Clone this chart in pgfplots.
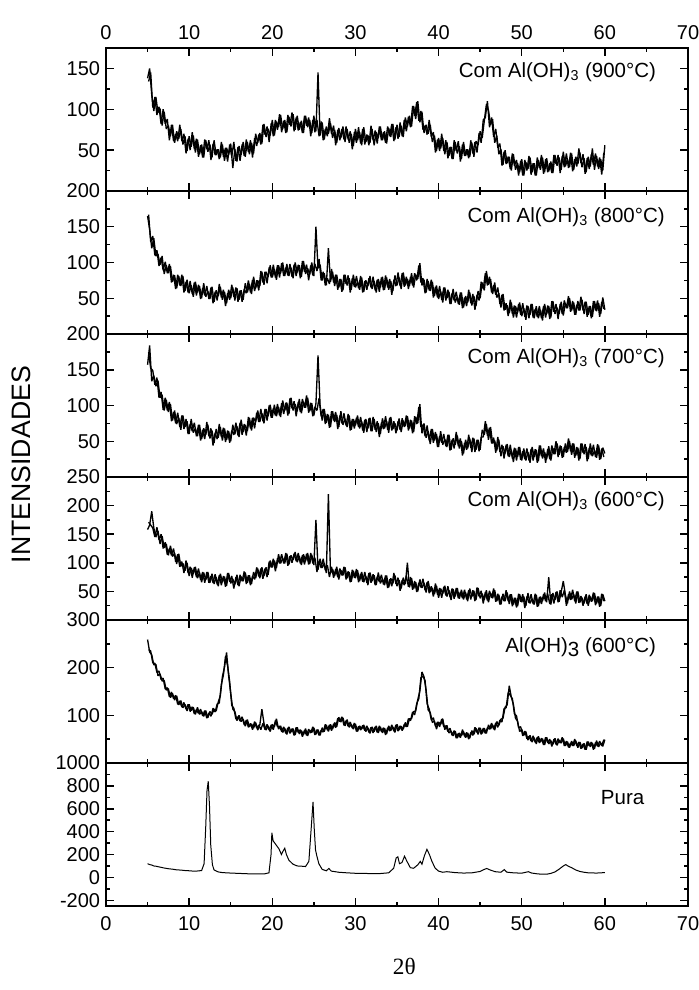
\documentclass[border=0pt]{standalone}
\usepackage{fontspec}
\setmainfont{Liberation Sans}
\newfontfamily\seriffont{Liberation Serif}
\usepackage{pgfplots}
\pgfplotsset{compat=1.18}
\usepackage{pgfplotstable}

% 2theta, then the five calcined samples (900, 800, 700, 600 C with Al(OH)3, and Al(OH)3 alone)
\pgfplotstableread{
x s900 s800 s700 s600 sal
5.00 138 165 157 158 259
5.25 150 146 184 166 233
5.50 118 120 134 190 227
5.75 98 134 142 161 206
6.00 115 109 127 145 207
6.25 96 112 135 156 183
6.50 101 97 111 133 187
6.75 80 109 115 147 172
7.00 97 84 93 126 173
7.25 76 96 108 133 153
7.50 80 85 91 113 156
7.75 67 95 102 130 137
8.00 81 73 79 111 146
8.25 59 82 93 117 132
8.50 73 64 74 98 141
8.75 64 81 83 116 122
9.00 76 67 66 94 131
9.25 57 81 86 99 116
9.50 67 60 70 86 123
9.75 49 76 78 100 109
10.00 67 57 60 77 123
10.25 54 68 81 91 110
10.50 68 52 62 81 117
10.75 47 73 68 93 102
11.00 63 58 57 73 117
11.25 45 67 73 83 102
11.50 57 50 53 66 108
11.75 41 71 68 83 98
12.00 62 52 59 70 110
12.25 48 60 73 84 95
12.50 57 49 54 65 108
12.75 41 66 65 81 102
13.00 62 45 48 63 113
13.25 44 61 67 75 109
13.50 51 53 55 59 128
13.75 41 66 70 81 141
14.00 57 48 51 66 181
14.25 37 59 68 76 201
14.50 53 43 52 60 232
14.75 44 62 64 82 183
15.00 58 50 50 64 146
15.25 28 65 73 72 113
15.50 51 47 60 62 108
15.75 36 64 71 79 89
16.00 55 48 56 59 100
16.25 44 61 80 76 87
16.50 60 48 63 68 92
16.75 42 71 73 83 77
17.00 60 58 64 65 91
17.25 45 70 83 78 76
17.50 59 56 65 63 82
17.75 46 80 83 84 73
18.00 70 64 77 73 85
18.25 59 75 93 90 69
18.50 71 67 77 73 80
18.75 58 87 89 92 113
19.00 82 69 75 77 83
19.25 66 87 95 92 69
19.50 76 80 85 79 78
19.75 68 96 101 104 66
20.00 87 79 83 92 81
20.25 68 91 101 104 76
20.50 85 76 85 91 93
20.75 78 96 98 115 71
21.00 93 85 84 99 78
21.25 76 100 107 108 64
21.50 87 81 93 99 73
21.75 72 98 104 116 60
22.00 91 81 88 97 76
22.25 79 93 111 113 65
22.50 94 78 93 105 72
22.75 75 100 102 119 59
23.00 92 86 92 101 75
23.25 75 96 109 112 61
23.50 86 80 89 96 68
23.75 71 102 105 115 59
24.00 92 84 97 103 72
24.25 78 92 111 117 57
24.50 87 83 92 98 69
24.75 71 100 103 114 64
25.00 92 81 86 96 74
25.25 73 150 103 175 60
25.50 145 92 170 88 70
25.75 68 97 100 107 58
26.00 84 75 79 91 74
26.25 63 85 95 99 66
26.50 79 68 76 82 80
26.75 70 120 87 220 66
27.00 83 73 70 82 81
27.25 65 87 92 89 71
27.50 75 67 77 77 85
27.75 59 83 87 93 76
28.00 77 65 70 71 96
28.25 65 77 92 87 86
28.50 79 61 73 78 95
28.75 60 83 81 92 78
29.00 76 68 70 73 91
29.25 59 78 86 84 75
29.50 70 62 66 67 81
29.75 55 83 81 86 71
30.00 76 65 72 73 82
30.25 62 73 86 87 66
30.50 72 62 68 68 78
30.75 56 79 78 84 71
31.00 78 59 62 66 80
31.25 60 75 81 77 66
31.50 68 67 68 61 74
31.75 59 81 83 83 62
32.00 76 63 64 68 76
32.25 56 74 81 78 66
32.50 72 58 63 61 78
32.75 65 77 75 83 63
33.00 79 65 60 64 76
33.25 62 80 82 72 63
33.50 73 62 68 61 73
33.75 58 79 78 78 61
34.00 77 62 62 57 78
34.25 66 74 84 73 68
34.50 82 60 67 64 76
34.75 63 82 75 78 64
35.00 81 68 65 59 81
35.25 66 79 82 70 69
35.50 80 63 63 55 77
35.75 66 86 79 74 71
36.00 90 68 71 63 85
36.25 79 77 85 100 76
36.50 92 67 68 57 93
36.75 79 85 79 73 93
37.00 104 65 63 55 108
37.25 88 83 84 66 109
37.50 110 77 75 50 133
37.75 84 99 102 71 151
38.00 97 68 61 56 191
38.25 71 76 75 65 181
38.50 81 58 55 48 153
38.75 70 74 64 68 111
39.00 81 60 46 49 106
39.25 60 73 67 56 85
39.50 68 53 51 45 88
39.75 49 68 60 60 71
40.00 65 49 42 39 86
40.25 52 60 64 55 81
40.50 65 44 45 46 93
40.75 45 65 53 60 70
41.00 60 50 42 41 79
41.25 43 59 59 52 63
41.50 54 42 38 35 67
41.75 39 63 54 54 57
42.00 60 44 45 41 67
42.25 46 52 58 56 52
42.50 55 41 40 37 63
42.75 39 58 50 53 57
43.00 60 37 33 36 66
43.25 43 53 52 48 53
43.50 51 44 40 33 63
43.75 42 58 54 55 52
44.00 59 40 35 41 68
44.25 42 53 54 51 60
44.50 61 39 38 35 73
44.75 56 60 52 56 60
45.00 73 50 38 38 74
45.25 65 72 66 46 62
45.50 86 61 59 35 73
45.75 106 88 74 52 62
46.00 99 69 52 31 80
46.25 81 77 70 47 71
46.50 88 56 47 38 80
46.75 59 72 51 52 69
47.00 68 51 37 33 87
47.25 45 57 52 44 79
47.50 51 37 29 27 92
47.75 32 56 43 46 94
48.00 50 34 33 33 117
48.25 34 40 46 48 122
48.50 42 29 28 28 162
48.75 25 44 38 45 138
49.00 45 23 21 27 123
49.25 26 39 40 39 94
49.50 34 30 28 24 88
49.75 23 44 42 45 66
50.00 39 25 23 31 71
50.25 19 36 40 41 58
50.50 35 20 23 25 66
50.75 27 39 35 47 48
51.00 41 27 20 29 58
51.25 23 42 42 37 44
51.50 34 22 28 27 53
51.75 19 39 38 44 40
52.00 38 22 22 24 56
52.25 26 34 44 41 44
52.50 41 19 26 33 51
52.75 23 42 35 48 38
53.00 40 28 25 31 54
53.25 24 39 43 75 40
53.50 36 23 23 27 47
53.75 22 46 40 47 39
54.00 44 28 32 35 52
54.25 31 37 47 50 37
54.50 41 28 31 32 48
54.75 26 45 43 49 42
55.00 48 26 28 68 51
55.25 30 43 47 44 36
55.50 39 36 35 29 45
55.75 29 50 50 50 32
56.00 46 33 31 36 46
56.25 26 44 47 45 36
56.50 42 27 30 29 47
56.75 33 46 41 50 32
57.00 47 33 25 31 44
57.25 29 48 47 39 31
57.50 40 28 32 29 41
57.75 23 45 42 45 28
58.00 42 27 25 25 45
58.25 30 39 47 41 34
58.50 52 24 29 33 42
58.75 26 46 37 47 30
59.00 43 32 27 29 47
59.25 27 43 44 41 34
59.50 39 28 25 25 42
59.75 25 51 41 45 35
60.00 56 34 33 33 49
}\noisy

% the readings that fall between those above
\pgfplotstableread{
x s900 s800 s700 s600 sal
5.125 134 167 174 171 238
5.375 145 129 152 166 235
5.625 102 137 149 161 210
5.875 115 110 129 145 209
6.125 93 117 139 162 190
6.375 103 95 111 140 193
6.625 82 107 119 150 175
6.875 100 89 94 125 178
7.125 82 101 111 136 155
7.375 88 85 93 114 158
7.625 62 98 105 125 139
7.875 81 72 78 113 149
8.125 61 83 91 125 135
8.375 70 63 75 102 142
8.625 61 83 90 115 123
8.875 81 68 70 93 130
9.125 61 83 86 102 117
9.375 70 58 67 82 127
9.625 46 73 81 104 113
9.875 64 58 60 82 123
10.125 50 74 74 93 108
10.375 72 56 64 74 118
10.625 51 72 76 92 103
10.875 64 54 57 75 112
11.125 42 69 73 90 104
11.375 56 49 51 70 113
11.625 41 64 66 84 99
11.875 63 54 53 65 110
12.125 51 67 77 84 94
12.375 62 49 57 65 105
12.625 38 65 68 77 98
12.875 58 43 44 65 115
13.125 44 59 62 80 107
13.375 51 47 53 62 124
13.625 39 70 74 78 126
13.875 60 51 56 61 165
14.125 42 62 69 77 185
14.375 53 39 49 58 224
14.625 36 57 65 82 204
14.875 57 48 48 67 171
15.125 42 69 65 77 121
15.375 60 52 59 55 115
15.625 37 65 76 75 92
15.875 54 45 58 61 97
16.125 37 61 76 79 88
16.375 57 45 59 68 97
16.625 43 63 74 85 80
16.875 63 57 58 63 90
17.125 48 75 84 78 75
17.375 62 58 68 61 83
17.625 41 76 83 77 70
17.875 65 60 68 71 87
18.125 55 75 90 92 73
18.375 69 61 77 76 80
18.625 57 88 95 90 70
18.875 81 72 78 72 83
19.125 69 87 95 90 70
19.375 79 71 79 75 81
19.625 60 93 100 102 69
19.875 83 79 83 92 80
20.125 67 97 96 107 70
20.375 87 79 86 85 89
20.625 75 96 102 108 76
20.875 94 79 86 99 77
21.125 72 99 103 115 66
21.375 86 81 88 99 76
21.625 71 93 104 117 62
21.875 93 82 86 95 74
22.125 81 98 110 112 62
22.375 96 80 96 100 72
22.625 73 97 106 116 58
22.875 90 81 85 103 75
23.125 74 97 105 117 64
23.375 84 78 91 99 70
23.625 71 102 109 113 55
23.875 92 87 97 97 69
24.125 80 97 114 116 58
24.375 90 75 90 97 71
24.625 67 96 104 117 63
24.875 87 82 85 99 76
25.125 72 98 98 109 59
25.375 87 88 93 84 70
25.625 67 105 110 103 58
25.875 85 75 85 91 69
26.125 62 87 95 107 65
26.375 76 68 74 87 81
26.625 67 78 88 96 69
26.875 89 70 69 75 80
27.125 70 91 92 93 68
27.375 80 72 79 74 82
27.625 56 83 91 89 74
27.875 75 62 67 75 94
28.125 62 77 86 90 87
28.375 76 59 75 78 97
28.625 63 83 89 93 79
28.875 79 70 72 71 89
29.125 63 82 88 85 77
29.375 73 58 65 66 86
29.625 51 78 81 88 73
29.875 72 66 68 74 84
30.125 59 81 83 89 66
30.375 78 64 70 66 77
30.625 58 81 84 81 69
30.875 76 58 65 67 79
31.125 57 74 80 84 68
31.375 69 62 63 65 78
31.625 56 78 82 82 64
31.875 80 65 64 65 75
32.125 62 80 84 80 63
32.375 74 61 66 61 76
32.625 58 76 78 76 64
32.875 79 59 56 67 78
33.125 62 79 76 79 66
33.375 72 61 67 62 74
33.625 59 82 85 78 59
33.875 79 65 66 56 74
34.125 67 77 83 71 67
34.375 82 55 65 59 80
34.625 61 76 78 82 67
34.875 78 67 61 63 80
35.125 64 86 78 74 67
35.375 84 67 66 51 78
35.625 67 85 82 70 68
35.875 87 66 70 61 81
36.125 73 80 86 77 76
36.375 91 63 65 58 93
36.625 78 80 80 75 89
36.875 104 68 61 53 107
37.125 92 85 85 68 101
37.375 109 75 74 49 125
37.625 86 96 98 65 135
37.875 98 72 70 57 179
38.125 75 78 73 72 182
38.375 80 57 57 52 173
38.625 69 77 72 66 124
38.875 87 61 51 47 113
39.125 66 76 67 59 90
39.375 72 51 48 41 95
39.625 47 66 63 64 77
39.875 63 51 42 44 86
40.125 49 67 57 56 76
40.375 70 48 48 39 92
40.625 49 65 60 58 76
40.875 62 47 43 43 78
41.125 40 62 59 59 66
41.375 54 42 37 40 73
41.625 39 57 52 55 58
41.875 62 47 40 37 68
42.125 49 59 63 56 52
42.375 61 42 43 38 62
42.625 36 58 54 49 53
42.875 57 36 30 38 70
43.125 43 51 48 53 56
43.375 51 39 38 36 64
43.625 40 62 59 52 50
43.875 62 43 41 36 64
44.125 46 56 55 52 58
44.375 60 34 35 33 75
44.625 47 55 52 57 64
44.875 71 47 36 41 74
45.125 59 73 56 51 60
45.375 87 63 56 29 73
45.625 90 85 78 49 62
45.875 110 68 58 34 74
46.125 78 80 69 51 71
46.375 90 58 47 39 84
46.625 66 68 55 55 71
46.875 76 55 34 32 84
47.125 53 65 56 46 75
47.375 58 42 35 27 90
47.625 31 55 45 41 86
47.875 48 33 26 33 114
48.125 33 43 45 52 116
48.375 42 25 29 33 148
48.625 27 48 45 45 142
48.875 46 28 26 24 135
49.125 31 40 41 39 103
49.375 38 23 23 22 99
49.625 19 42 42 46 74
49.875 37 27 24 32 76
50.125 19 43 36 45 57
50.375 38 24 25 21 67
50.625 25 40 40 41 51
50.875 43 22 23 30 56
51.125 20 42 39 45 46
51.375 34 23 23 28 57
51.625 19 35 39 46 43
51.875 41 24 20 23 54
52.125 28 39 44 40 42
52.375 44 22 29 28 52
52.625 21 39 40 45 38
52.875 39 23 20 33 54
53.125 23 40 39 46 43
53.375 34 21 25 28 50
53.625 22 46 44 45 35
53.875 44 31 32 29 50
54.125 33 42 50 49 39
54.375 44 21 28 31 51
54.625 22 42 44 52 42
54.875 43 28 27 40 54
55.125 29 47 42 52 36
55.375 46 36 34 25 46
55.625 28 53 54 45 33
55.875 47 31 36 35 42
56.125 24 46 47 53 36
56.375 39 27 27 33 50
56.625 30 41 42 50 36
56.875 52 33 23 30 44
57.125 34 52 47 42 30
57.375 45 33 34 25 40
57.625 21 45 46 41 28
57.875 40 24 22 28 45
58.125 27 39 41 44 36
58.375 45 22 30 32 44
58.625 32 46 45 48 28
58.875 46 33 28 26 43
59.125 30 47 46 41 35
59.375 41 24 24 23 46
59.625 20 45 40 46 36
59.875 47 35 28 33 49
}\noisyb

% uncalcined sample
\pgfplotstableread{
x y
5 120
5.25 112
5.5 108
5.75 100
6 98
6.5 90
7 82
7.5 76
8 72
8.5 66
9 64
9.5 60
10 58
10.5 55
11 56
11.5 60
11.8 120
12.0 450
12.15 760
12.3 840
12.45 620
12.6 280
12.8 110
13.0 65
13.5 48
14 42
15 38
16 35
17 32
18 30
19 30
19.6 40
19.85 200
19.95 390
20.1 320
20.4 290
20.8 250
21.1 200
21.3 230
21.5 255
21.7 200
22 150
22.5 115
23 100
23.5 98
24 95
24.4 140
24.7 450
24.9 660
25.05 420
25.2 240
25.35 190
25.6 120
26 70
26.5 58
26.8 78
27.1 55
28 45
29 40
30 36
31 35
32 33
33 34
34 40
34.6 80
34.9 170
35.1 180
35.3 120
35.6 130
35.9 185
36.2 140
36.6 85
37 80
37.5 110
37.8 140
38.0 115
38.3 190
38.6 245
38.9 200
39.2 140
39.6 80
40 55
40.5 45
41 50
42 42
43 38
44 40
45 52
45.5 70
45.8 78
46.2 65
46.8 50
47.5 45
47.9 68
48.2 46
49 40
50 37
50.8 50
51.2 38
52 30
53 28
53.5 35
54 48
54.5 72
55 100
55.3 112
55.6 98
56 85
56.5 65
57 52
57.5 45
58 40
59 38
60 42
}\pura

\pgfplotsset{
  panel/.style={
    scale only axis,
    width=349.2pt, height=85.8pt,
    xmin=0, xmax=70,
    xtick={0,10,...,70}, minor xtick={5,15,...,65},
    xticklabels={},
    tick align=inside,
    axis line style={line width=1.1pt},
    major tick length=4.8pt, minor tick length=2.6pt,
    every tick/.style={black, line width=0.9pt},
    tick label style={font=\fontsize{12}{14}\selectfont},
    /pgf/number format/assume math mode=true,
    /pgf/number format/1000 sep={},
    clip=false,
  },
}
\tikzset{
  trace/.style={black, line width=0.8pt, line join=bevel},
  lbl/.style={anchor=east, font=\fontsize{12.3}{14}\selectfont},
}

\begin{document}
\begin{tikzpicture}
\useasboundingbox (-63.6pt,28.8pt) rectangle (355.8pt,-565.2pt);

\begin{axis}[panel, name=p1, at={(0,0)}, anchor=north west,
    ymin=0, ymax=175, ytick={50,100,150}, minor ytick={25,75,125},
    xticklabel pos=upper, xticklabels={0,10,20,30,40,50,60,70},
    xticklabel style={yshift=1.5pt}]
\addplot[trace] table[x=x, y=s900] {\noisy};
\addplot[trace] table[x=x, y=s900] {\noisyb};
\node[lbl] at (rel axis cs:0.955,0.83) {Com Al(OH)\textsubscript{3} (900°C)};
\end{axis}

\begin{axis}[panel, name=p2, at={(p1.south west)}, anchor=north west,
    ymin=0, ymax=200, ytick={50,100,150,200}, minor ytick={25,75,125,175}]
\addplot[trace] table[x=x, y=s800] {\noisy};
\addplot[trace] table[x=x, y=s800] {\noisyb};
\node[lbl] at (rel axis cs:0.97,0.82) {Com Al(OH)\textsubscript{3} (800°C)};
\end{axis}

\begin{axis}[panel, name=p3, at={(p2.south west)}, anchor=north west,
    ymin=0, ymax=200, ytick={50,100,150,200}, minor ytick={25,75,125,175}]
\addplot[trace] table[x=x, y=s700] {\noisy};
\addplot[trace] table[x=x, y=s700] {\noisyb};
\node[lbl] at (rel axis cs:0.97,0.83) {Com Al(OH)\textsubscript{3} (700°C)};
\end{axis}

\begin{axis}[panel, name=p4, at={(p3.south west)}, anchor=north west,
    ymin=0, ymax=250, ytick={50,100,150,200,250}, minor ytick={25,75,125,175,225}]
\addplot[trace] table[x=x, y=s600] {\noisy};
\addplot[trace] table[x=x, y=s600] {\noisyb};
\node[lbl] at (rel axis cs:0.97,0.83) {Com Al(OH)\textsubscript{3} (600°C)};
\end{axis}

\begin{axis}[panel, name=p5, at={(p4.south west)}, anchor=north west,
    ymin=0, ymax=300, ytick={100,200,300}, minor ytick={50,150,250}]
\addplot[trace] table[x=x, y=sal] {\noisy};
\addplot[trace] table[x=x, y=sal] {\noisyb};
\node[lbl] at (rel axis cs:0.955,0.81) {Al(OH)\raisebox{-0.35ex}{3} (600°C)};
\end{axis}

\begin{axis}[panel, name=p6, at={(p5.south west)}, anchor=north west,
    ymin=-250, ymax=1000, ytick={-200,0,200,400,600,800,1000},
    minor ytick={-100,100,300,500,700,900},
    xticklabels={0,10,20,30,40,50,60,70},
    xticklabel style={yshift=-2.5pt}]
\addplot[black, line width=0.6pt] table[x=x, y=y] {\pura};
\node[lbl] at (rel axis cs:0.935,0.76) {Pura};
\end{axis}

\node[rotate=90, font=\fontsize{16}{19}\selectfont] at (-51pt,-250pt) {INTENSIDADES};
\node[font=\seriffont\fontsize{14}{16}\selectfont] at (179pt,-551pt) {2θ};
\end{tikzpicture}
\end{document}
